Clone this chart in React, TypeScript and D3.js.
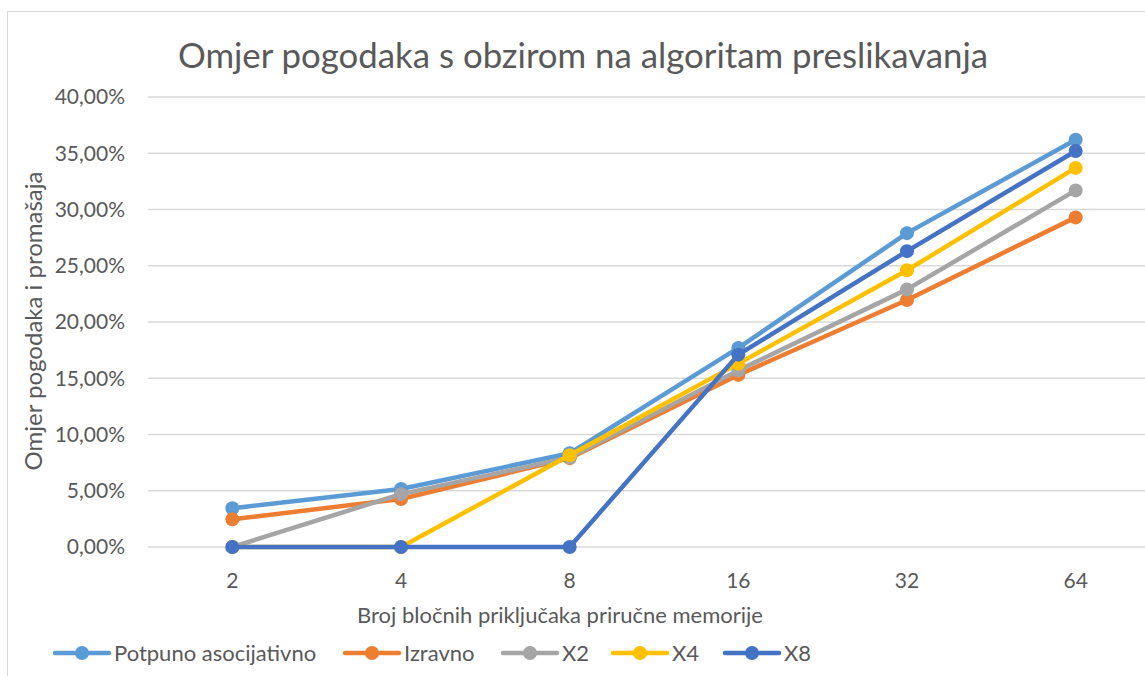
import React from "react";
import * as d3 from "d3";

const categories = ["2", "4", "8", "16", "32", "64"];
const seriesNames = ["Potpuno asocijativno", "Izravno", "X2", "X4", "X8"];
const potpuno = [3.44, 5.15, 8.33, 17.7, 27.9, 36.2];
const izravno = [2.46, 4.27, 7.9, 15.3, 21.96, 29.3];
const x2 = [0, 4.7, 7.95, 15.7, 22.9, 31.7];
const x4 = [0, 0, 8.15, 16.3, 24.6, 33.7];
const x8 = [0, 0, 0, 17.1, 26.3, 35.2];
const yTicks = [0, 5, 10, 15, 20, 25, 30, 35, 40];
const colors = ["#5B9BD5", "#ED7D31", "#A5A5A5", "#FFC000", "#4472C4"];

const W = 1145;
const H = 676;
const font = "Lato, 'Open Sans', sans-serif";
const textColor = "#595959";

export default function App() {
  const series = [potpuno, izravno, x2, x4, x8];
  const x = d3
    .scaleBand()
    .domain(categories)
    .range([148, 1160]);
  const y = d3.scaleLinear().domain([0, 40]).range([547, 97]);
  const cx = (i: number) => x(categories[i])! + x.bandwidth() / 2;
  const line = d3
    .line<number>()
    .x((d, i) => cx(i))
    .y((d) => y(d));

  // legend layout
  const legendX = [55, 345, 503, 613, 725];

  return (
    <svg
      width={W}
      height={H}
      style={{ position: "absolute", left: 0, top: 0, background: "#fff" }}
      fontFamily={font}
    >
      <rect x={7.5} y={11.5} width={W + 20} height={H + 20} fill="#fff" stroke="#D9D9D9" />
      <text x={583} y={68} textAnchor="middle" fontSize={34.8} fill={textColor}>
        Omjer pogodaka s obzirom na algoritam preslikavanja
      </text>

      {yTicks.map((t) => (
        <g key={t}>
          <line x1={148} x2={1160} y1={y(t)} y2={y(t)} stroke="#D9D9D9" strokeWidth={1.3} />
          <text x={125} y={y(t)} dy="0.35em" textAnchor="end" fontSize={21} fill={textColor}>
            {t.toFixed(2).replace(".", ",") + "%"}
          </text>
        </g>
      ))}

      {categories.map((c, i) => (
        <text key={c} x={cx(i)} y={581} dy="0.35em" textAnchor="middle" fontSize={21} fill={textColor}>
          {c}
        </text>
      ))}

      <text x={560} y={615} dy="0.35em" textAnchor="middle" fontSize={22} fill={textColor}>
        Broj bločnih priključaka priručne memorije
      </text>
      <text
        transform={`translate(34,321) rotate(-90)`}
        dy="0.35em"
        textAnchor="middle"
        fontSize={24}
        fill={textColor}
      >
        Omjer pogodaka i promašaja
      </text>

      {series.map((s, si) => (
        <g key={si}>
          <path d={line(s)!} fill="none" stroke={colors[si]} strokeWidth={4.5} strokeLinejoin="round" />
          {s.map((v, i) => (
            <circle key={i} cx={cx(i)} cy={y(v)} r={7} fill={colors[si]} />
          ))}
        </g>
      ))}

      {seriesNames.map((n, i) => (
        <g key={n} transform={`translate(${legendX[i]},653)`}>
          <line x1={0} x2={54} y1={0} y2={0} stroke={colors[i]} strokeWidth={4.5} strokeLinecap="round" />
          <circle cx={27} cy={0} r={7} fill={colors[i]} />
          <text x={59} y={0} dy="0.35em" fontSize={22} fill={textColor}>
            {n}
          </text>
        </g>
      ))}
    </svg>
  );
}
